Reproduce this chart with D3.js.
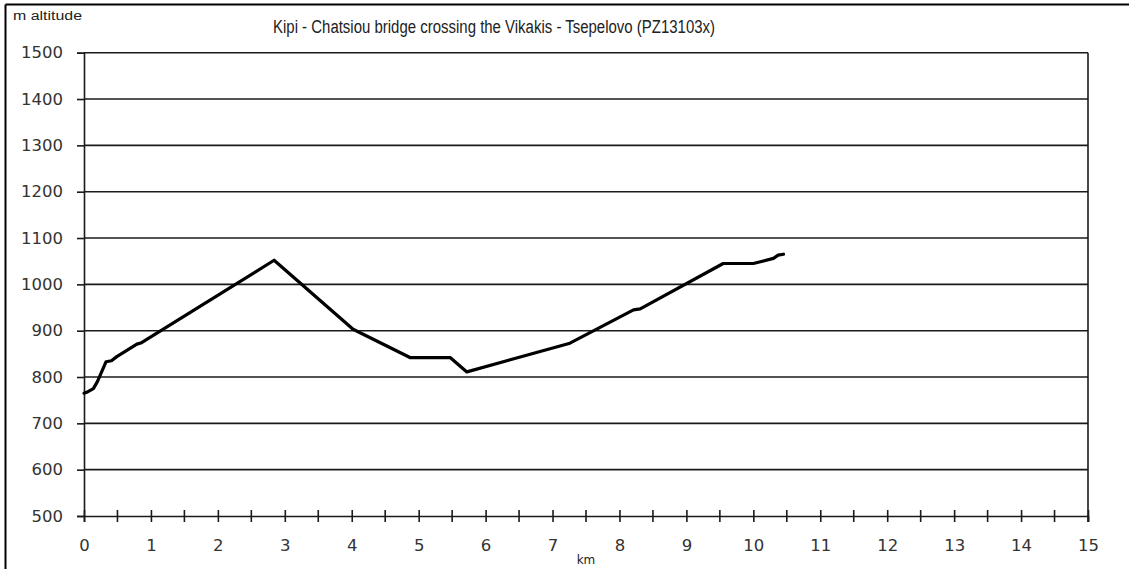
<!DOCTYPE html>
<html>
<head>
<meta charset="utf-8">
<script src="https://cdn.jsdelivr.net/npm/d3@7"></script>
<style>
  html, body { margin: 0; padding: 0; background: #fff; }
  svg { display: block; }
</style>
</head>
<body>
<svg id="chart" width="1129" height="569"></svg>
<script>
// Data
const distanceKm = [0, 0.04, 0.14, 0.2, 0.33, 0.41, 0.49, 0.79, 0.86, 2.84, 4.02, 4.87, 5.47, 5.72, 7.26, 7.71, 8.21, 8.31, 9.55, 10.0, 10.3, 10.37, 10.45];
const altitudeM  = [765, 767, 775, 790, 833, 835, 844, 871, 874, 1052, 903, 842, 842, 811, 873, 907, 945, 947, 1045, 1045, 1056, 1063, 1065];
const yTicks = [500, 600, 700, 800, 900, 1000, 1100, 1200, 1300, 1400, 1500];
const xTicks = [0, 1, 2, 3, 4, 5, 6, 7, 8, 9, 10, 11, 12, 13, 14, 15];
const xMinorTicks = [0.5, 1.5, 2.5, 3.5, 4.5, 5.5, 6.5, 7.5, 8.5, 9.5, 10.5, 11.5, 12.5, 13.5, 14.5];
const titleText = "Kipi - Chatsiou bridge crossing the Vikakis - Tsepelovo (PZ13103x)";
const yAxisTitle = "m altitude";
const xAxisTitle = "km";

(function () {
const svg = d3.select("#chart");
const pLeft = 84, pRight = 1088, pTop = 52.7, pBottom = 516;

const x = d3.scaleLinear().domain([0, 15]).range([pLeft, pRight]);
const y = d3.scaleLinear().domain([500, 1500]).range([pBottom, pTop]);

// outer frame (top and left visible)
svg.append("line").attr("x1", 5.5).attr("x2", 1129).attr("y1", 4.5).attr("y2", 4.5)
  .attr("stroke", "#000").attr("stroke-width", 2);
svg.append("line").attr("x1", 5.5).attr("x2", 5.5).attr("y1", 4.5).attr("y2", 569)
  .attr("stroke", "#000").attr("stroke-width", 2);

// gridlines
svg.append("g").selectAll("line").data(yTicks.filter(d => d > 500)).join("line")
  .attr("x1", pLeft).attr("x2", pRight)
  .attr("y1", d => y(d)).attr("y2", d => y(d))
  .attr("stroke", "#1a1a1a").attr("stroke-width", 1.6);

// right border of plot
svg.append("line").attr("x1", pRight).attr("x2", pRight).attr("y1", pTop).attr("y2", pBottom + 6)
  .attr("stroke", "#1a1a1a").attr("stroke-width", 1.6);

// y axis
const yAxis = d3.axisLeft(y).tickValues(yTicks).tickSize(7).tickPadding(14).tickFormat(d3.format("d"));
const gy = svg.append("g").attr("transform", `translate(${pLeft},0)`).call(yAxis);
gy.select(".domain").attr("stroke", "#1a1a1a").attr("stroke-width", 1.6);
gy.selectAll(".tick line").attr("stroke", "#1a1a1a").attr("stroke-width", 1.6);
gy.selectAll("text").attr("font-family", "DejaVu Sans, Verdana, sans-serif").attr("font-size", 16.5).attr("fill", "#333");

// x axis
const xAxis = d3.axisBottom(x).tickValues(xTicks).tickSize(6).tickPadding(17).tickFormat(d3.format("d"));
const gx = svg.append("g").attr("transform", `translate(0,${pBottom})`).call(xAxis);
gx.select(".domain").attr("stroke", "#1a1a1a").attr("stroke-width", 1.6);
gx.selectAll(".tick line").attr("stroke", "#1a1a1a").attr("stroke-width", 1.6).attr("y1", -6).attr("y2", 6);
gx.selectAll("text").attr("font-family", "DejaVu Sans, Verdana, sans-serif").attr("font-size", 16.5).attr("fill", "#333");
svg.append("g").selectAll("line").data(xMinorTicks).join("line")
  .attr("x1", d => x(d)).attr("x2", d => x(d))
  .attr("y1", pBottom - 6).attr("y2", pBottom + 6)
  .attr("stroke", "#1a1a1a").attr("stroke-width", 1.6);

// line
const line = d3.line().x((d, i) => x(distanceKm[i])).y(d => y(d));
svg.append("path").datum(altitudeM).attr("d", line)
  .attr("fill", "none").attr("stroke", "#000").attr("stroke-width", 3.2)
  .attr("stroke-linejoin", "round").attr("stroke-linecap", "round");

// titles
svg.append("text").attr("x", 273).attr("y", 33).text(titleText)
  .attr("font-family", "Liberation Sans, Arial, sans-serif").attr("font-size", 18).attr("fill", "#222")
  .attr("textLength", 442).attr("lengthAdjust", "spacingAndGlyphs");
svg.append("text").attr("x", 13).attr("y", 20).text(yAxisTitle)
  .attr("font-family", "Liberation Sans, Arial, sans-serif").attr("font-size", 12).attr("fill", "#222")
  .attr("textLength", 69).attr("lengthAdjust", "spacingAndGlyphs");
svg.append("text").attr("x", x(7.5)).attr("y", 564).attr("text-anchor", "middle").text(xAxisTitle)
  .attr("font-family", "DejaVu Sans, Verdana, sans-serif").attr("font-size", 12).attr("fill", "#222");
})();
</script>
</body>
</html>
